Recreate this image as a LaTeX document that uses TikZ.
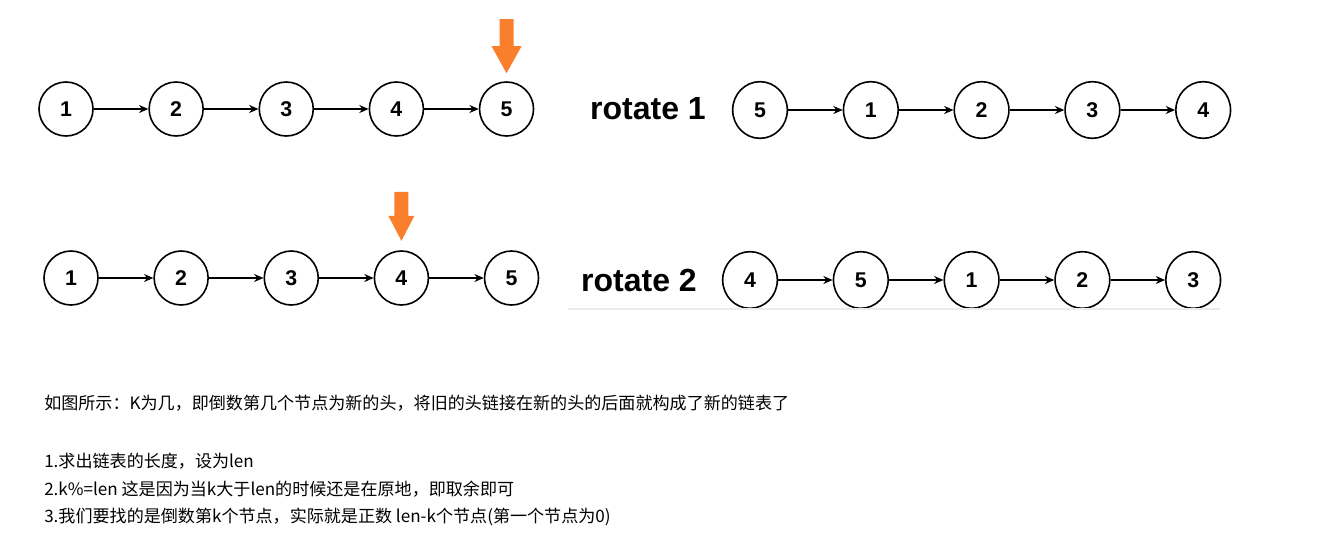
\documentclass[tikz,border=0pt]{standalone}
\usepackage{fontspec}
\setmainfont{Liberation Sans}
\newfontfamily\cjk{Noto Sans CJK SC}
\usepackage{tikz}
\usetikzlibrary{positioning,arrows.meta,shapes.geometric}
\usepackage{xcolor}
\definecolor{pointer}{HTML}{FA7F2C}
\definecolor{rulegray}{HTML}{EBEBEB}

\tikzset{
 elem/.style={draw,circle,line width=1.2pt,minimum size=40.5pt,inner sep=0pt},
 relem/.style={draw,ellipse,line width=1.2pt,minimum width=41pt,minimum height=42.5pt,inner sep=0pt},
 link/.style={->,line width=1.15pt},
 title/.style={font=\bfseries\fontsize{24pt}{27pt}\selectfont},
 note/.style={font=\cjk\fontsize{12.8pt}{15pt}\selectfont,anchor=west,inner sep=0pt}
}

\begin{document}
\begin{tikzpicture}[x=0.75pt,y=-0.75pt,every node/.style={font=\bfseries\fontsize{16pt}{18pt}\selectfont},
 >={Stealth[length=7pt,width=6pt]},node distance=40.9pt]
 \useasboundingbox (0,0) rectangle (1333,543);
 % first list
 \node[elem] (a1) at (66,109) {1};
 \node[elem,right=of a1] (a2) {2};
 \node[elem,right=of a2] (a3) {3};
 \node[elem,right=of a3] (a4) {4};
 \node[elem,right=of a4] (a5) {5};
 \draw[link] (a1) -- (a2);
 \draw[link] (a2) -- (a3);
 \draw[link] (a3) -- (a4);
 \draw[link] (a4) -- (a5);
 \fill[pointer] ([yshift=6pt]a5.north) -- ++(-15,-27) -- ++(8,0) -- ++(0,-27) -- ++(14,0) -- ++(0,27) -- ++(8,0) -- cycle;

 % rotate 1
 \node[title] (t1) at (648,109) {rotate 1};
 \node[relem] (r1) at (760,110) {5};
 \node[relem,right=of r1] (r2) {1};
 \node[relem,right=of r2] (r3) {2};
 \node[relem,right=of r3] (r4) {3};
 \node[relem,right=of r4] (r5) {4};
 \draw[link] (r1) -- (r2);
 \draw[link] (r2) -- (r3);
 \draw[link] (r3) -- (r4);
 \draw[link] (r4) -- (r5);

 % second list
 \node[elem] (b1) at (71,278) {1};
 \node[elem,right=of b1] (b2) {2};
 \node[elem,right=of b2] (b3) {3};
 \node[elem,right=of b3] (b4) {4};
 \node[elem,right=of b4] (b5) {5};
 \draw[link] (b1) -- (b2);
 \draw[link] (b2) -- (b3);
 \draw[link] (b3) -- (b4);
 \draw[link] (b4) -- (b5);
 \fill[pointer] ([yshift=7pt]b4.north) -- ++(-13,-25) -- ++(6,0) -- ++(0,-24) -- ++(14,0) -- ++(0,24) -- ++(6,0) -- cycle;

 % rotate 2
 \node[title] (t2) at (639,280) {rotate 2};
 \node[relem] (s1) at (750,280) {4};
 \node[relem,right=of s1] (s2) {5};
 \node[relem,right=of s2] (s3) {1};
 \node[relem,right=of s3] (s4) {2};
 \node[relem,right=of s4] (s5) {3};
 \draw[link] (s1) -- (s2);
 \draw[link] (s2) -- (s3);
 \draw[link] (s3) -- (s4);
 \draw[link] (s4) -- (s5);
 \draw[rulegray,line width=1pt] (568,309) -- (1220,309);

 % notes
 \node[note] (n0) at (44,403) {如图所示：K为几，即倒数第几个节点为新的头，将旧的头链接在新的头的后面就构成了新的链表了};
 \node[note] (n1) at (44,461) {1.求出链表的长度，设为len};
 \node[note] (n2) at (44,489) {2.k\%=len 这是因为当k大于len的时候还是在原地，即取余即可};
 \node[note] (n3) at (44,517) {3.我们要找的是倒数第k个节点，实际就是正数 len-k个节点(第一个节点为0)};
\end{tikzpicture}
\end{document}
